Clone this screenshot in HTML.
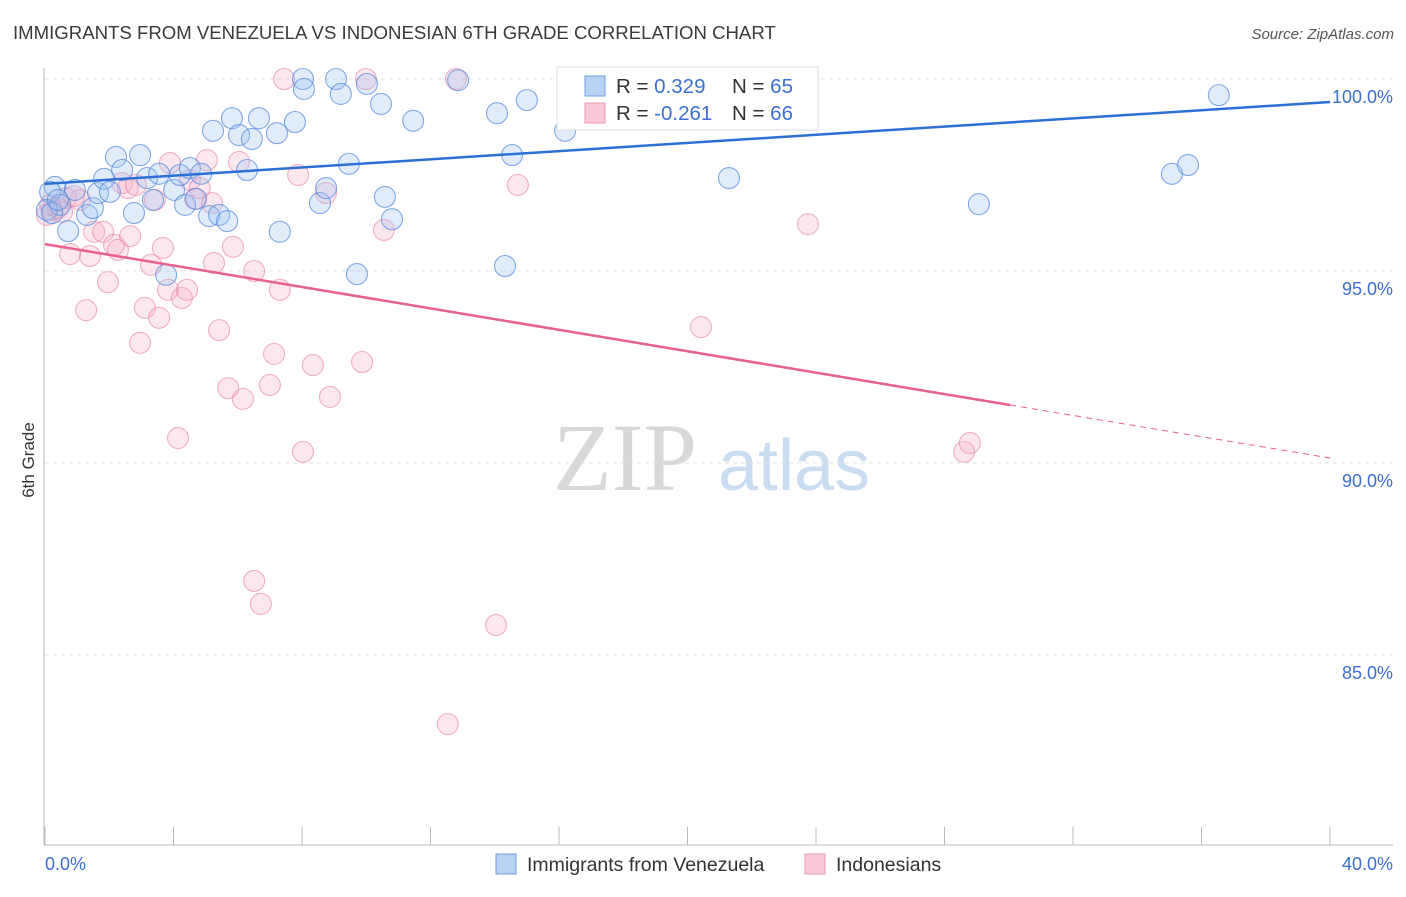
<!DOCTYPE html>
<html><head><meta charset="utf-8"><style>
body{margin:0;background:#fff;font-family:"Liberation Sans",sans-serif;}
svg text{font-family:"Liberation Sans",sans-serif;}
</style></head><body>
<svg id="chart" width="1406" height="892" xmlns="http://www.w3.org/2000/svg">
<text x="13" y="39" font-size="18.6" fill="#3a3a3a">IMMIGRANTS FROM VENEZUELA VS INDONESIAN 6TH GRADE CORRELATION CHART</text>
<text x="1394" y="39" font-size="15" fill="#555" font-style="italic" text-anchor="end">Source: ZipAtlas.com</text>
<text transform="translate(34,460) rotate(-90)" font-size="17" fill="#333" text-anchor="middle">6th Grade</text>
<g><text x="553" y="490" font-size="96" fill="#d8d8d8" font-family="Liberation Serif,serif" style="font-family:'Liberation Serif',serif">ZIP</text><text x="718" y="490" font-size="72" fill="#c9dcf2">atlas</text></g>
<g id="grid"></g><g id="axes"></g><g id="pts"></g><g id="trend"></g>
<g>
<rect x="557" y="67" width="261" height="63" fill="#fff" stroke="#ddd"/>
<rect x="585" y="76" width="20" height="20" fill="#b8d2f4" stroke="#6f9ee0"/>
<rect x="585" y="103" width="20" height="20" fill="#f9c9d7" stroke="#ea9ab3"/>
<text x="616" y="93" font-size="20.5" fill="#333">R = <tspan fill="#3b6fd4">0.329</tspan></text>
<text x="732" y="93" font-size="20.5" fill="#333">N = <tspan fill="#3b6fd4">65</tspan></text>
<text x="616" y="120" font-size="20.5" fill="#333">R = <tspan fill="#3b6fd4">-0.261</tspan></text>
<text x="732" y="120" font-size="20.5" fill="#333">N = <tspan fill="#3b6fd4">66</tspan></text>
</g>
<g>
<rect x="496" y="854" width="20" height="20" fill="#b8d2f4" stroke="#6f9ee0"/>
<text x="527" y="871" font-size="19.5" fill="#333">Immigrants from Venezuela</text>
<rect x="805" y="854" width="20" height="20" fill="#f9c9d7" stroke="#ea9ab3"/>
<text x="836" y="871" font-size="19.5" fill="#333">Indonesians</text>
</g>
</svg>
<script>
const blueX=[.31,.16,.47,.72,.93,1.31,1.49,1.65,1.84,2.02,2.21,2.40,2.77,2.96,3.18,3.36,3.55,3.77,4.02,4.20,4.36,4.51,4.70,4.86,5.11,5.23,5.42,5.67,5.82,6.04,6.29,6.44,6.66,7.22,7.31,7.78,8.03,8.06,8.56,8.75,9.06,9.21,9.46,9.71,10.02,10.46,10.58,10.80,11.46,12.86,14.07,14.32,14.54,15.00,16.19,17.28,21.29,22.01,29.07,35.08,35.58,36.54,.06,.22,.40];
const blueY=[97.19,97.06,96.72,96.04,97.11,96.46,96.64,97.03,97.40,97.06,97.97,97.63,96.51,98.02,97.42,96.85,97.53,94.90,97.11,97.50,96.72,97.68,96.88,97.53,96.43,98.65,96.46,96.30,98.98,98.54,97.63,98.44,98.98,98.59,96.02,98.88,100,99.74,96.77,97.16,100,99.61,97.79,94.92,99.87,99.35,96.93,96.35,98.91,99.97,99.11,95.13,98.02,99.45,98.65,99.97,97.42,99.97,96.74,97.53,97.76,99.58,96.59,96.51,96.85];
const pinkX=[.06,.22,.40,.65,.78,1.09,1.28,1.40,1.53,1.81,1.96,2.15,2.27,2.40,2.58,2.65,2.96,3.11,3.30,3.42,3.55,3.67,3.83,3.89,4.14,4.26,4.42,4.51,4.67,4.82,5.04,5.20,5.26,5.42,5.70,5.85,6.04,6.16,6.51,6.51,6.72,7.00,7.13,7.31,7.44,7.88,8.03,8.34,8.75,8.87,9.87,9.99,10.55,12.54,12.79,14.04,14.72,18.83,20.42,23.75,28.61,28.79,.16,.53,.90,2.83];
const pinkY=[96.46,96.59,96.64,96.90,95.44,96.85,93.98,95.39,96.02,96.02,94.71,95.68,95.55,97.29,97.16,95.91,93.13,94.04,95.16,96.85,93.78,95.60,94.51,97.81,90.65,94.30,94.51,97.37,96.88,97.16,97.89,96.77,95.21,93.46,91.95,95.63,97.84,91.67,95.00,86.93,86.33,92.03,92.84,94.51,100,97.50,90.29,92.55,97.03,91.72,92.63,100,96.07,83.20,100,85.78,97.24,100,93.54,96.22,90.29,90.52,96.72,96.54,96.95,97.24];
const yTicks=[100,95,90,85];
const yTickLabels=["100.0%","95.0%","90.0%","85.0%"];
const xTicks=[0,4,8,12,16,20,24,28,32,36,40];
const blueTrend=[[0,97.27],[40,99.40]];
const pinkTrend=[[0,95.70],[30.04,91.51],[40,90.13]];
const NS="http://www.w3.org/2000/svg";
const X=v=>45+v/40*1285, Y=v=>79+(100-v)*38.4;
function mk(t,a,p){const e=document.createElementNS(NS,t);for(const k in a)e.setAttribute(k,a[k]);document.getElementById(p).appendChild(e);return e;}
yTicks.forEach((t,i)=>{
 const g=mk('line',{x1:45,x2:1393,y1:Y(t),y2:Y(t),stroke:'#e2e2e2','stroke-dasharray':'4,4'},'grid');
 
 
 const l=mk('text',{x:1393,y:Y(t)+24,'text-anchor':'end','font-size':18,fill:'#3b6fd4'},'axes');l.textContent=yTickLabels[i];
 
 
});
mk('line',{x1:44,x2:44,y1:68,y2:845,stroke:'#bbb'},'axes');
mk('line',{x1:44,x2:1393,y1:845,y2:845,stroke:'#bbb'},'axes');
xTicks.forEach(t=>{const k=mk('line',{x1:X(t),x2:X(t),y1:827,y2:845,stroke:'#bbb'},'axes');
 
 });
let a=mk('text',{x:45,y:870,'font-size':18,fill:'#3b6fd4'},'axes');a.textContent='0.0%';


a=mk('text',{x:1393,y:870,'font-size':18,fill:'#3b6fd4','text-anchor':'end'},'axes');a.textContent='40.0%';


function pts(xs,ys,fill,stroke,name){xs.forEach((x,i)=>{const c=mk('circle',{cx:X(x),cy:Y(ys[i]),r:10.5,fill:fill,stroke:stroke,'stroke-width':1.1},'pts');
 
 });}
pts(pinkX,pinkY,'rgba(245,175,198,0.3)','rgba(232,130,162,0.6)','indonesians-point');
pts(blueX,blueY,'rgba(155,192,240,0.3)','rgba(80,135,220,0.7)','venezuela-point');
let t=mk('line',{x1:X(blueTrend[0][0]),y1:Y(blueTrend[0][1]),x2:X(blueTrend[1][0]),y2:Y(blueTrend[1][1]),stroke:'#2c6fd6','stroke-width':2.5},'trend');


t=mk('line',{x1:X(pinkTrend[0][0]),y1:Y(pinkTrend[0][1]),x2:X(pinkTrend[1][0]),y2:Y(pinkTrend[1][1]),stroke:'#e8608e','stroke-width':2.5},'trend');


t=mk('line',{x1:X(pinkTrend[1][0]),y1:Y(pinkTrend[1][1]),x2:X(pinkTrend[2][0]),y2:Y(pinkTrend[2][1]),stroke:'#e8608e','stroke-width':1,'stroke-dasharray':'6,5'},'trend');


</script>
</body></html>
